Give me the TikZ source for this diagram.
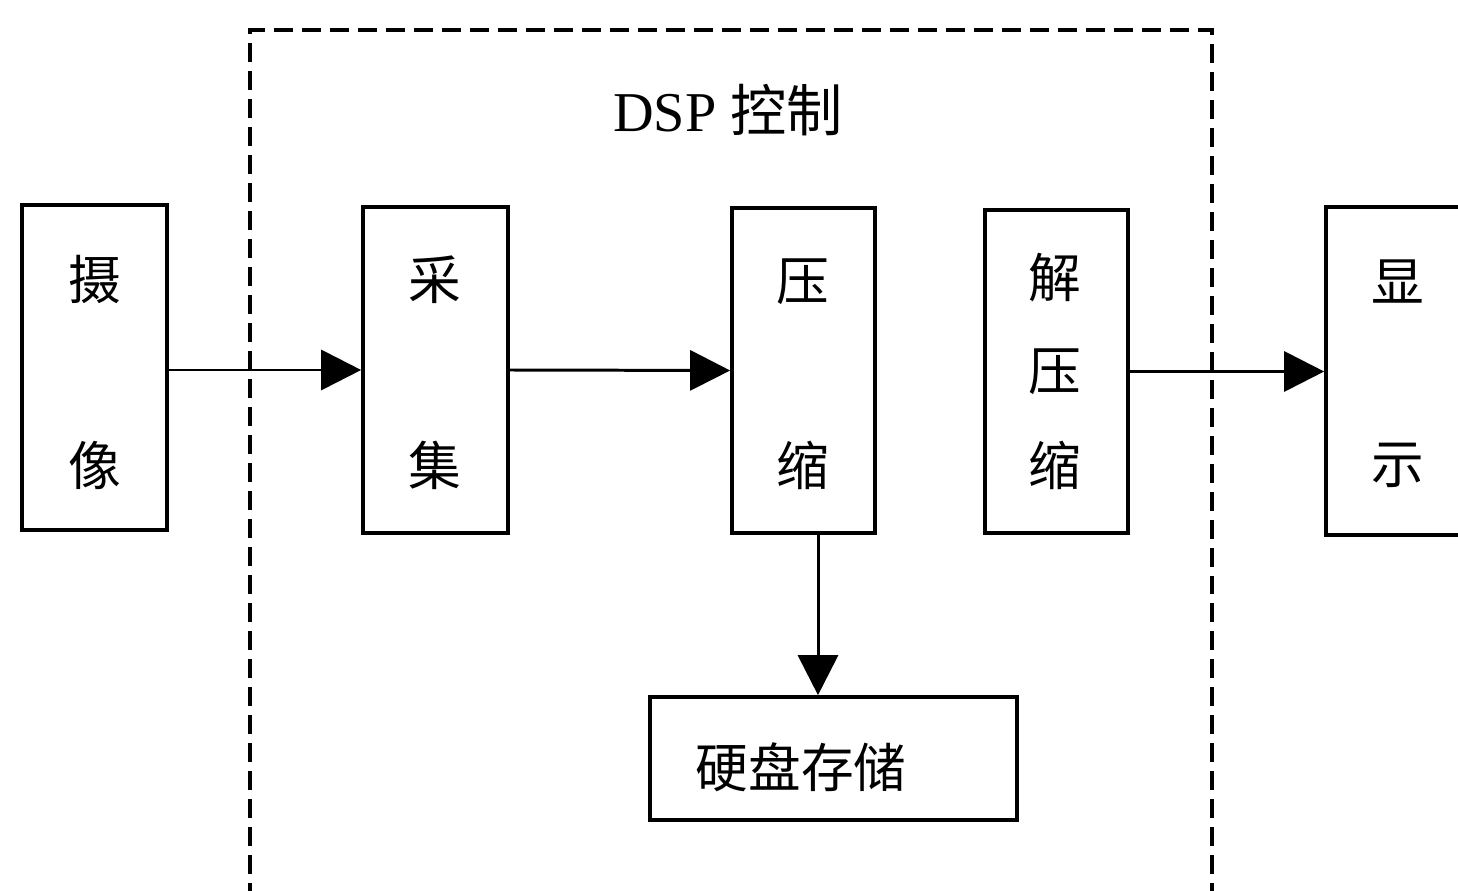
\documentclass[tikz,border=0pt]{standalone}
\usepackage{fontspec}
\setmainfont{Liberation Serif}
\newfontfamily\cjk{Noto Sans CJK SC}
\usetikzlibrary{arrows.meta}
\tikzset{
  blockbox/.style={draw, line width=2.1pt, inner sep=0pt},
  glyph/.style={font=\cjk\fontsize{30}{30}\selectfont, inner sep=0pt},
  flow/.style={line width=1.7pt, -{Triangle[length=0.8cm,width=0.8cm]}},
  frame/.style={line width=1.9pt, dash pattern=on 0.38cm off 0.18cm}
}
\begin{document}
\begin{tikzpicture}[x=0.02cm,y=-0.02cm]
  \clip (0,0) rectangle (1458,891);
  \fill[white] (0,0) rectangle (1458,891);

  % DSP control region (open towards the bottom edge)
  \draw[frame] (250,930) -- (250,30) -- (1212,30) -- (1212,930);
  \node[font=\fontsize{32}{32}\selectfont, inner sep=0pt] (dsp) at (728,110) {DSP\ {\cjk 控制}};

  % processing blocks
  \node[blockbox, minimum width=2.9cm, minimum height=6.5cm] (cam) at (94.5,367.5) {};
  \node[blockbox, minimum width=2.9cm, minimum height=6.52cm] (acq) at (435.5,370) {};
  \node[blockbox, minimum width=2.86cm, minimum height=6.5cm] (comp) at (803.5,370.5) {};
  \node[blockbox, minimum width=2.86cm, minimum height=6.46cm] (dec) at (1056.5,371.5) {};
  \node[blockbox, minimum width=2.9cm, minimum height=6.56cm] (disp) at (1398.5,371) {};
  \node[blockbox, minimum width=7.34cm, minimum height=2.46cm] (store) at (833.5,758.5) {};

  % block captions
  \node[glyph] (cam1) at (95,280) {摄};
  \node[glyph] (cam2) at (95,465) {像};
  \node[glyph] (acq1) at (435,280) {采};
  \node[glyph] (acq2) at (435,465) {集};
  \node[glyph] (comp1) at (803,282) {压};
  \node[glyph] (comp2) at (803,465) {缩};
  \node[glyph] (dec1) at (1055,278) {解};
  \node[glyph] (dec2) at (1055,372) {压};
  \node[glyph] (dec3) at (1055,465) {缩};
  \node[glyph] (disp1) at (1398,282) {显};
  \node[glyph] (disp2) at (1398,465) {示};
  \node[glyph] (storetxt) at (801,767) {硬盘存储};

  % data flow
  \coordinate (downx) at (818,0);
  \draw[flow] (cam.east |- acq.west) -- (acq.west);
  \draw[flow] (acq.east) -- (comp.west);
  \draw[flow] (dec.east) -- (dec.east -| disp.west);
  \draw[flow] (comp.south -| downx) -- (store.north -| downx);
\end{tikzpicture}
\end{document}
